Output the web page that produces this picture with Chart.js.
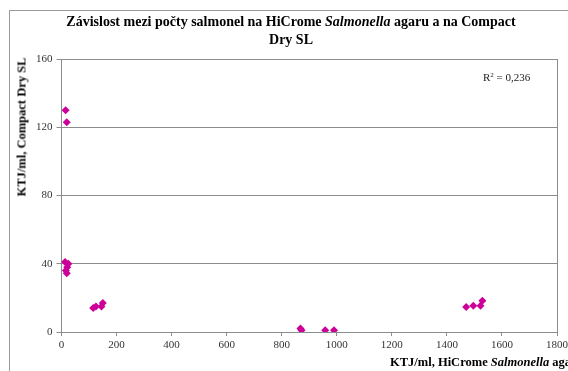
<!DOCTYPE html>
<html>
<head>
<meta charset="utf-8">
<script src="https://cdn.jsdelivr.net/npm/chart.js@4.4.1/dist/chart.umd.min.js"></script>
<style>
html,body{margin:0;padding:0;background:#fff;overflow:hidden;width:568px;height:371px;}
#wrap{position:relative;width:568px;height:371px;}
#frame{position:absolute;left:9px;top:10px;width:600px;height:400px;border:1px solid #9a9a9a;box-sizing:border-box;}
canvas{position:absolute;left:0;top:0;}
.t{position:absolute;font-family:"Liberation Serif","Times New Roman",serif;color:#000;white-space:nowrap;}
#title{left:0;width:582px;top:13px;text-align:center;font-weight:bold;font-size:14px;line-height:18px;}
#xtitle{left:390px;top:355px;font-weight:bold;font-size:12.5px;}
#ytitle{left:22px;top:127px;font-weight:bold;font-size:12.5px;transform:translate(-50%,-50%) rotate(-90deg);}
#r2{left:483px;top:71px;font-size:11px;color:#222;}
</style>
</head>
<body>
<div id="wrap">
<div id="frame"></div>
<canvas id="c" width="568" height="371"></canvas>
<div class="t" id="title">Závislost mezi počty salmonel na HiCrome <i>Salmonella</i> agaru a na Compact<br>Dry SL</div>
<div class="t" id="r2">R<sup style="font-size:7px;vertical-align:4px;line-height:0">2</sup> = 0,236</div>
<div class="t" id="ytitle">KTJ/ml, Compact Dry SL</div>
<div class="t" id="xtitle">KTJ/ml, HiCrome <i>Salmonella</i> agaru</div>
</div>
<script>
const hiCrome = [15, 19, 13, 25, 21, 16, 19, 115, 125, 145, 150, 868, 872, 958, 990, 1470, 1496, 1522, 1529];
const compactDry = [130, 123, 41, 40, 38, 36, 34.5, 14, 15, 15, 17, 2, 1, 1, 1, 14.6, 15.4, 15.4, 18.3];
const xTicks = [0, 200, 400, 600, 800, 1000, 1200, 1400, 1600, 1800];
const yTicks = [0, 40, 80, 120, 160];

const points = hiCrome.map((x, i) => ({x: x, y: compactDry[i]}));
const gray = '#8c8c8c';
const tickFont = {family: '"Liberation Serif", "Times New Roman", serif', size: 11};

new Chart(document.getElementById('c'), {
  type: 'scatter',
  data: {datasets: [{
    data: points,
    pointStyle: 'rectRot',
    pointRadius: 4,
    pointBackgroundColor: '#cc0099',
    pointBorderColor: '#cc0099',
    pointBorderWidth: 0
  }]},
  options: {
    responsive: false,
    animation: false,
    events: [],
    layout: {padding: {top: 59, right: 11, left: 8, bottom: 0}},
    plugins: {legend: {display: false}, tooltip: {enabled: false}, title: {display: false}},
    scales: {
      x: {
        type: 'linear', min: 0, max: 1800,
        afterBuildTicks: s => { s.ticks = xTicks.map(v => ({value: v})); },
        grid: {display: true, drawOnChartArea: false, color: gray, tickLength: 4, tickColor: gray},
        border: {color: gray, width: 1},
        ticks: {font: tickFont, color: '#333', padding: 3, maxRotation: 0, autoSkip: false, callback: v => String(v)},
        afterFit: s => { s.height = 39; s.paddingRight = 0; }
      },
      y: {
        type: 'linear', min: 0, max: 160,
        afterBuildTicks: s => { s.ticks = yTicks.map(v => ({value: v})); },
        grid: {color: gray, tickLength: 5, tickColor: gray},
        border: {color: gray, width: 1},
        ticks: {font: tickFont, color: '#333', padding: 4, callback: v => String(v)},
        afterFit: s => { s.width = 53.5; }
      }
    }
  },
  plugins: [{
    id: 'rightBorder',
    afterDraw(chart) {
      const {ctx, chartArea: a} = chart;
      ctx.save();
      ctx.strokeStyle = gray; ctx.lineWidth = 1;
      ctx.beginPath();
      ctx.moveTo(Math.round(a.right) + 0.5, a.top);
      ctx.lineTo(Math.round(a.right) + 0.5, a.bottom);
      ctx.stroke();
      ctx.restore();
    }
  }]
});
</script>
</body>
</html>
